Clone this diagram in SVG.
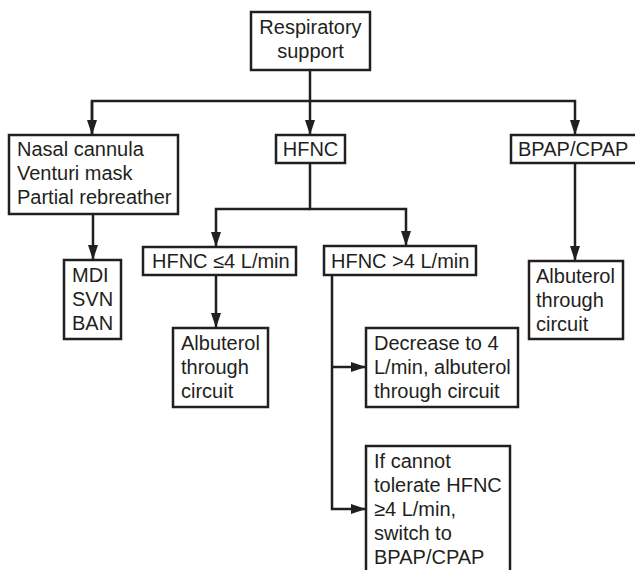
<svg xmlns="http://www.w3.org/2000/svg" width="635" height="570" viewBox="0 0 635 570">
<style>
.box{fill:#fff;stroke:#231f20;stroke-width:2.5}
.t{font-family:"Liberation Sans",Arial,sans-serif;font-size:20px;fill:#231f20}
.ln{fill:none;stroke:#231f20;stroke-width:2.5}
</style>
<defs>
<marker id="ah" viewBox="0 0 15 10" refX="15" refY="5" markerWidth="15" markerHeight="10" markerUnits="userSpaceOnUse" orient="auto">
<path d="M0,0 L15,5 L0,10 Z" fill="#231f20"/>
</marker>
</defs>
<rect width="635" height="570" fill="#fff"/>
<g id="connectors">
<path class="ln" d="M310,70 V135" marker-end="url(#ah)"/>
<path class="ln" d="M92,135 V101 H575 V135" marker-end="url(#ah)"/>
<path class="ln" d="M92,101 V135" marker-end="url(#ah)"/>
<path class="ln" d="M93,214 V260" marker-end="url(#ah)"/>
<path class="ln" d="M310,163 V209 H406 V246" marker-end="url(#ah)"/>
<path class="ln" d="M310,209 H216 V247" marker-end="url(#ah)"/>
<path class="ln" d="M216,275 V328" marker-end="url(#ah)"/>
<path class="ln" d="M575,163 V261" marker-end="url(#ah)"/>
<path class="ln" d="M332,275 V509 H366" marker-end="url(#ah)"/>
<path class="ln" d="M332,367 H366" marker-end="url(#ah)"/>
</g>
<g id="respiratory-support">
<rect class="box" x="251" y="12" width="119" height="58"/>
<text class="t" x="310.5" y="34" text-anchor="middle">Respiratory</text>
<text class="t" x="310.5" y="58" text-anchor="middle">support</text>
</g>
<g id="nasal">
<rect class="box" x="9" y="135" width="169" height="79"/>
<text class="t" x="17" y="156">Nasal cannula</text>
<text class="t" x="17" y="180">Venturi mask</text>
<text class="t" x="17" y="204">Partial rebreather</text>
</g>
<g id="hfnc">
<rect class="box" x="276" y="135" width="69" height="28"/>
<text class="t" x="310.5" y="156" text-anchor="middle">HFNC</text>
</g>
<g id="bpap">
<rect class="box" x="511" y="135" width="130" height="28"/>
<text class="t" x="518" y="156">BPAP/CPAP</text>
</g>
<g id="mdi">
<rect class="box" x="64" y="260" width="57" height="79"/>
<text class="t" x="72" y="282">MDI</text>
<text class="t" x="72" y="306">SVN</text>
<text class="t" x="72" y="330">BAN</text>
</g>
<g id="hfnc-low">
<rect class="box" x="143" y="247" width="153" height="28"/>
<text class="t" x="152" y="268">HFNC ≤4 L/min</text>
</g>
<g id="hfnc-high">
<rect class="box" x="324" y="246" width="152" height="29"/>
<text class="t" x="331" y="268">HFNC &gt;4 L/min</text>
</g>
<g id="albuterol-left">
<rect class="box" x="173" y="328" width="95" height="79"/>
<text class="t" x="181" y="350">Albuterol</text>
<text class="t" x="181" y="374">through</text>
<text class="t" x="181" y="398">circuit</text>
</g>
<g id="albuterol-right">
<rect class="box" x="529" y="261" width="94" height="78"/>
<text class="t" x="536" y="283">Albuterol</text>
<text class="t" x="536" y="307">through</text>
<text class="t" x="536" y="331">circuit</text>
</g>
<g id="decrease">
<rect class="box" x="366" y="328" width="152" height="79"/>
<text class="t" x="374" y="350">Decrease to 4</text>
<text class="t" x="374" y="374">L/min, albuterol</text>
<text class="t" x="374" y="398">through circuit</text>
</g>
<g id="cannot-tolerate">
<rect class="box" x="366" y="446" width="144" height="130"/>
<text class="t" x="374" y="468">If cannot</text>
<text class="t" x="374" y="492">tolerate HFNC</text>
<text class="t" x="374" y="516">≥4 L/min,</text>
<text class="t" x="374" y="540">switch to</text>
<text class="t" x="374" y="564">BPAP/CPAP</text>
</g>
</svg>
